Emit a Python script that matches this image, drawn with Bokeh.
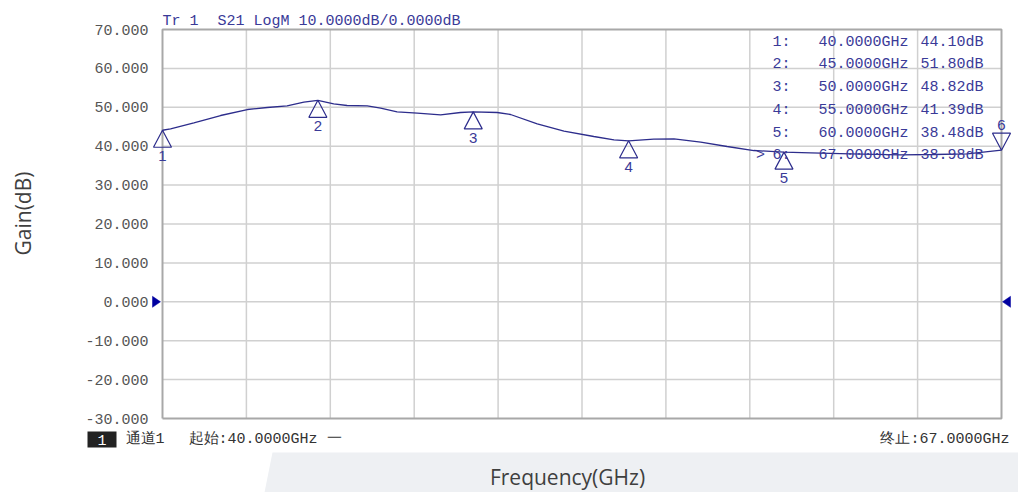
import math
from bokeh.plotting import figure
from bokeh.models import Range1d, Label
from bokeh.core.properties import value
from bokeh.embed import file_html
from bokeh.resources import INLINE

# ---------------- data ----------------
freq_ghz = [40.00, 40.26, 41.01, 41.87, 42.73, 43.37, 44.01, 44.55, 45.00, 45.51,
            45.94, 46.59, 47.02, 47.55, 48.20, 48.95, 49.59, 50.00, 50.77, 51.20,
            52.06, 52.92, 53.88, 54.53, 55.00, 55.81, 56.46, 57.32, 58.17, 59.03,
            60.00, 60.86, 62.14, 63.75, 64.81, 65.90, 67.00]
gain_db = [44.10, 44.47, 46.02, 47.89, 49.43, 49.95, 50.39, 51.31, 51.80, 50.90,
           50.46, 50.39, 49.77, 48.84, 48.48, 48.07, 48.66, 48.82, 48.66, 48.15,
           45.76, 43.86, 42.49, 41.65, 41.39, 41.80, 41.90, 41.03, 39.92, 38.89,
           38.48, 38.30, 38.05, 37.79, 37.87, 38.05, 38.98]

marker_ids = ["1", "2", "3", "4", "5", "6"]
marker_freq = [40.0, 45.0, 50.0, 55.0, 60.0, 67.0]
marker_gain = [44.10, 51.80, 48.82, 41.39, 38.48, 38.98]

y_ticks = [-30, -20, -10, 0, 10, 20, 30, 40, 50, 60, 70]
x_grid = [40.0, 42.7, 45.4, 48.1, 50.8, 53.5, 56.2, 58.9, 61.6, 64.3, 67.0]
ref_level = 0.0

trace_name = "Tr 1"
trace_desc = "S21 LogM 10.0000dB/0.0000dB"
channel_num = "1"
channel_text = "通道1"
start_text = "起始:40.0000GHz 一"
stop_text = "终止:67.0000GHz"
x_title = "Frequency(GHz)"
y_title = "Gain(dB)"

# ---------------- layout ----------------
W, H = 1018, 492
X0, X1 = 40.0, 67.0
Y0, Y1 = -30.0, 70.0
BOX_L, BOX_T = 162, 29          # measurement grid top-left, canvas pixels
BOX_W, BOX_H = 839, 389
PXG = BOX_W / (X1 - X0)          # pixels per GHz
PXD = BOX_H / (Y1 - Y0)          # pixels per dB

BLUE_TXT = "#3a3a98"
CURVE = "#2d2d8c"
MONO = "Liberation Mono"


def to_data(ix, iy):
    return X0 + (ix - BOX_L) / PXG, Y1 - (iy - BOX_T) / PXD


p = figure(width=W, height=H,
           x_range=Range1d(X0 - BOX_L / PXG, X0 + (W - BOX_L) / PXG),
           y_range=Range1d(Y1 - (H - BOX_T) / PXD, Y1 + BOX_T / PXD),
           output_backend="svg", toolbar_location=None, title=None,
           min_border=0, min_border_left=0, min_border_right=0,
           min_border_top=0, min_border_bottom=0)
p.axis.visible = False
p.grid.visible = False
p.outline_line_color = None
p.background_fill_color = "white"
p.border_fill_color = "white"

# bottom decorative band
band = [to_data(272, 452), to_data(W + 5, 452), to_data(W + 5, H + 5), to_data(263, H + 5)]
p.patch([b[0] for b in band], [b[1] for b in band], fill_color="#eef0f3", line_color=None)

# grid
inner_x = x_grid[1:-1]
inner_y = y_ticks[1:-1]
p.segment(x0=inner_x, y0=[Y0] * len(inner_x), x1=inner_x, y1=[Y1] * len(inner_x),
          line_color="#d0d0d0", line_width=1.5)
p.segment(x0=[X0] * len(inner_y), y0=inner_y, x1=[X1] * len(inner_y), y1=inner_y,
          line_color="#d0d0d0", line_width=1.5)
p.line([X0, X1, X1, X0, X0], [Y0, Y0, Y1, Y1, Y0], line_color="#a8a8a8", line_width=2)

# y tick labels
p.text(x=[X0 - 14 / PXG] * len(y_ticks), y=y_ticks, text=[f"{t:.3f}" for t in y_ticks],
       text_align="right", text_baseline="middle", text_font=value(MONO),
       text_font_size="15px", text_color="#555555")

# trace
p.line(freq_ghz, gain_db, line_color=CURVE, line_width=1.3)

# marker triangles (apex on the trace)
hw, th = 9 / PXG, 17 / PXD
tri_xs, tri_ys = [], []
for mid, f, g in zip(marker_ids, marker_freq, marker_gain):
    s = -1 if mid == marker_ids[-1] else 1
    tri_xs.append([f, f - hw, f + hw])
    tri_ys.append([g, g - s * th, g - s * th])
p.patches(tri_xs, tri_ys, fill_color=None, line_color=CURVE, line_width=1.2)

# reference-level arrows at 0 dB
ah, aw = 5.5 / PXD, 8 / PXG
p.patches([[X0 - 2 / PXG - aw, X0 - 2 / PXG - aw, X0 - 2 / PXG],
           [X1 + 1 / PXG + aw, X1 + 1 / PXG + aw, X1 + 1 / PXG]],
          [[ref_level - ah, ref_level + ah, ref_level],
           [ref_level - ah, ref_level + ah, ref_level]],
          fill_color="#0000a0", line_color="#0000a0", line_width=0.5)

# channel badge background
bl, bt = to_data(87, 431)
br, bb = to_data(116, 447)
p.quad(left=[bl], right=[br], top=[bt], bottom=[bb], fill_color="#222222", line_color=None)


def add_text(ix, iy, text, align="left", baseline="middle", font=MONO, size="15px",
             color=BLUE_TXT, angle=0.0, **kw):
    x, y = to_data(ix, iy)
    p.add_layout(Label(x=x, y=y, text=text, text_align=align, text_baseline=baseline,
                       text_font=font, text_font_size=size, text_color=color,
                       angle=angle, **kw))


# trace title
add_text(162, 20.5, trace_name)
add_text(217, 20.5, trace_desc)

# marker numbers
for mid, f, g in zip(marker_ids, marker_freq, marker_gain):
    dy = -25.5 if mid == marker_ids[-1] else 26
    p.add_layout(Label(x=f, y=g - dy / PXD, text=mid, text_align="center",
                       text_baseline="middle", text_font="Liberation Sans",
                       text_font_size="15px", text_color=BLUE_TXT))

# marker table
for i, (mid, f, g) in enumerate(zip(marker_ids, marker_freq, marker_gain)):
    ry = 41.7 + 22.7 * i
    add_text(772, ry, mid + ":")
    add_text(818, ry, f"{f:.4f}GHz")
    add_text(920, ry, f"{g:.2f}dB")
add_text(760, 41.7 + 22.7 * 5, ">", align="center")

# status line below the grid
add_text(101.5, 439, channel_num, align="center", color="white")
add_text(125, 439, channel_text, color="#333333")
add_text(188, 439, start_text, color="#333333")
add_text(1009, 439, stop_text, align="right", color="#333333")

# axis titles
add_text(567, 476, x_title, align="center", font="Open Sans", size="21px", color="#3f3f3f")
add_text(22, 213, y_title, align="center", font="Open Sans", size="21px", color="#3f3f3f",
         angle=math.pi / 2)

open("out.html", "w").write(file_html(p, INLINE))
